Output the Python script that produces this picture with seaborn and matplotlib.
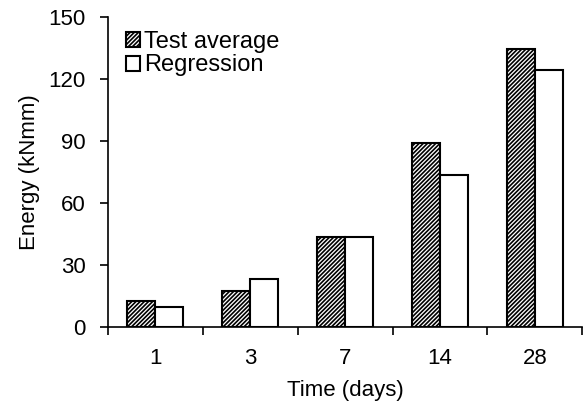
import numpy as np
import pandas as pd
import matplotlib
matplotlib.use('Agg')
import matplotlib.pyplot as plt
import seaborn as sns

# values
days = ['1', '3', '7', '14', '28']
test_avg = [12.6, 17.3, 43.5, 89.2, 134.5]
regression = [9.8, 23.2, 43.5, 73.5, 124.3]
series = ['Test average', 'Regression']

df = pd.DataFrame({
    'Time': days * 2,
    'Energy': test_avg + regression,
    'Series': [series[0]] * len(days) + [series[1]] * len(days),
})

sns.set_style('ticks', {'text.color': 'black', 'axes.labelcolor': 'black',
                        'xtick.color': 'black', 'ytick.color': 'black',
                        'axes.edgecolor': 'black'})
plt.rcParams['font.family'] = ['Liberation Sans', 'DejaVu Sans']
plt.rcParams['hatch.linewidth'] = 1.2

FS = 16
HATCH = '////////'

fig = plt.figure(figsize=(5.84, 4.08), dpi=100)
ax = fig.add_axes([0.185, 0.199, 0.812, 0.759])

sns.barplot(data=df, x='Time', y='Energy', hue='Series', order=days,
            hue_order=series, palette=['white', 'white'], width=0.59,
            edgecolor='black', linewidth=1.5, ax=ax, legend=True)

for patch in ax.containers[0]:
    patch.set_hatch(HATCH)

ax.set_ylim(0, 150)
ax.set_yticks([0, 30, 60, 90, 120, 150])
ax.set_xlim(-0.5, 4.5)
ax.set_xticks([-0.5, 0.5, 1.5, 2.5, 3.5, 4.5], minor=True)
ax.tick_params(axis='x', which='major', length=0, labelsize=FS, pad=15)
ax.tick_params(axis='x', which='minor', length=6, width=1.2, direction='out')
ax.tick_params(axis='y', labelsize=FS, length=6, width=1.2, direction='out', pad=10)
ax.set_xlabel('Time (days)', fontsize=FS, labelpad=8)
ax.set_ylabel('Energy (kNmm)', fontsize=FS, labelpad=6)
for s in ['top', 'right']:
    ax.spines[s].set_visible(False)
for s in ['left', 'bottom']:
    ax.spines[s].set_linewidth(1.2)

handles, labels = ax.get_legend_handles_labels()
handles[0].set_hatch(HATCH)
ax.legend(handles, labels, loc='upper left', bbox_to_anchor=(0.008, 1.0),
          frameon=False, fontsize=FS + 1, handlelength=0.6, handleheight=0.6,
          handletextpad=0.15, labelspacing=0.05, borderaxespad=0.2)

fig.savefig('out.png', dpi=100)
